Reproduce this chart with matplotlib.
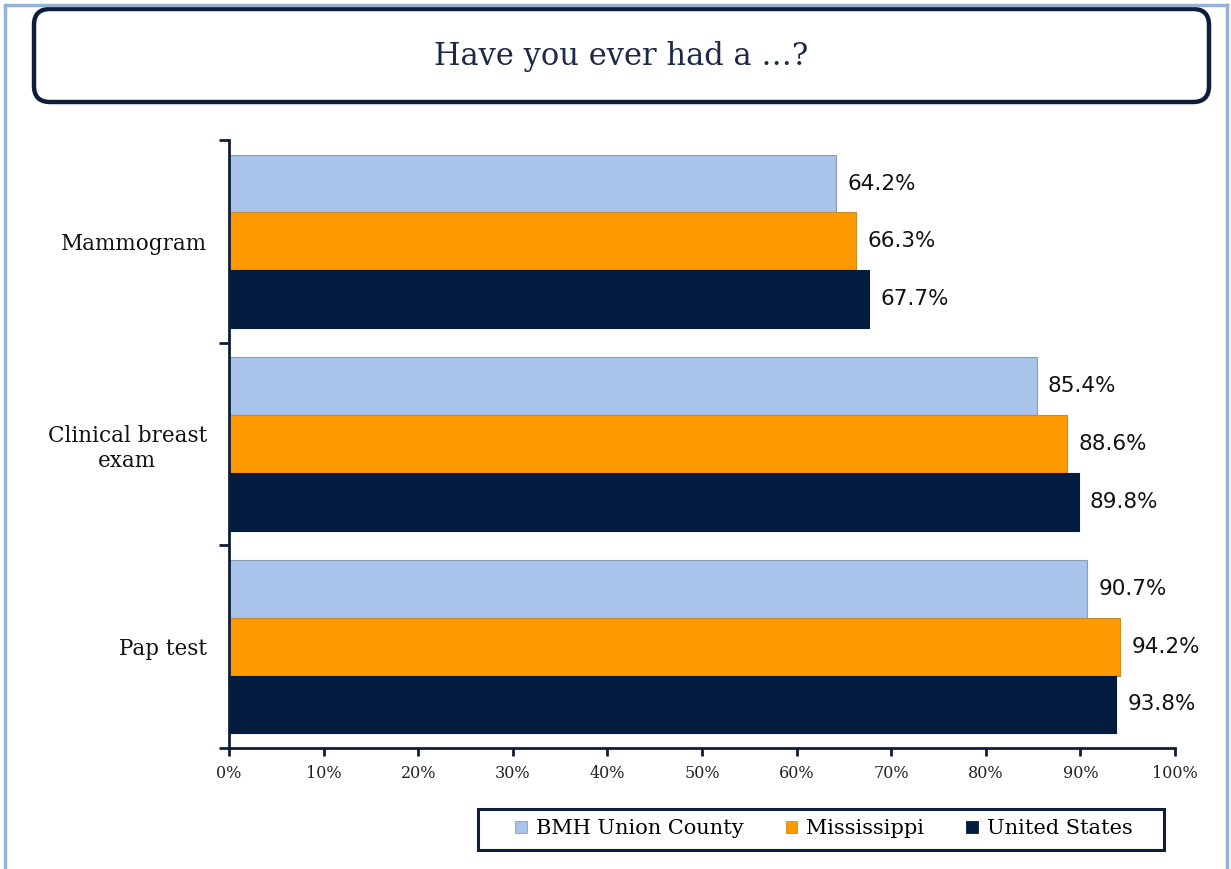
import matplotlib
matplotlib.use("Agg")
import matplotlib.pyplot as plt
import numpy as np
from matplotlib.patches import FancyBboxPatch, Patch, Rectangle

categories = ["Mammogram", "Clinical breast\nexam", "Pap test"]
series_names = ["BMH Union County", "Mississippi", "United States"]
bmh = [64.2, 85.4, 90.7]
mississippi = [66.3, 88.6, 94.2]
united_states = [67.7, 89.8, 93.8]
x_ticks = [0, 10, 20, 30, 40, 50, 60, 70, 80, 90, 100]
title = "Have you ever had a …?"

colors = ["#A8C4EA", "#FF9900", "#021C40"]
edges = ["#8A9BB5", "#C98A2A", "#021C40"]
navy = "#0E1E3A"
serif = "DejaVu Serif"

W, H = 1231, 869
fig = plt.figure(figsize=(W / 100, H / 100), dpi=100)
fig.patch.set_facecolor("white")

# background overlay in pixel units
bg = fig.add_axes([0, 0, 1, 1], zorder=-1)
bg.set_xlim(0, W)
bg.set_ylim(H, 0)
bg.axis("off")
bg.plot([5, 5], [5, H], color="#95B3D7", lw=2.5, solid_capstyle="butt")
bg.plot([5, 1227], [5, 5], color="#95B3D7", lw=2.5)
bg.plot([1227, 1227], [5, H], color="#95B3D7", lw=2.5)
box = FancyBboxPatch((34, 9), 1175, 93, boxstyle="round,pad=0,rounding_size=16",
                     fc="white", ec=navy, lw=3.2)
bg.add_patch(box)
bg.text(621, 57, title, ha="center", va="center", fontsize=22,
        family=serif, color="#1B2A48")
bg.add_patch(Rectangle((478, 809), 686, 41, fc="white", ec=navy, lw=2.2))

ax = fig.add_axes([229 / W, 1 - 748 / H, (1175 - 229) / W, (748 - 140) / H])
ax.set_facecolor("none")

h = 0.285
y = np.arange(len(categories))
all_series = [bmh, mississippi, united_states]
for i, vals in enumerate(all_series):
    pos = y + (i - 1) * h
    ax.barh(pos, vals, height=h, color=colors[i], edgecolor=edges[i], lw=0.8, zorder=2)
    for p, v in zip(pos, vals):
        ax.annotate(f"{v:.1f}%", (v, p), xytext=(8, 0), textcoords="offset points",
                    ha="left", va="center", fontsize=15.5, family="DejaVu Sans",
                    color="#111111")

ax.set_xlim(0, 100)
ax.set_ylim(2.5, -0.5)
ax.set_xticks(x_ticks)
ax.set_xticklabels([f"{t}%" for t in x_ticks], family=serif, fontsize=11.5, color="#222222")
ax.set_yticks([-0.5, 0.5, 1.5, 2.5])
ax.set_yticklabels([])
ax.set_yticks(y, minor=True)
ax.set_yticklabels(categories, minor=True, family=serif, fontsize=15.5, color="#111111")
for lab in ax.get_yticklabels(minor=True):
    lab.set_multialignment("center")
ax.tick_params(axis="y", which="major", direction="out", length=7, width=2, color=navy)
ax.tick_params(axis="y", which="minor", length=0, pad=16)
ax.tick_params(axis="x", direction="out", length=6, width=2, color=navy, pad=6)
for s in ["top", "right"]:
    ax.spines[s].set_visible(False)
for s in ["left", "bottom"]:
    ax.spines[s].set_color(navy)
    ax.spines[s].set_linewidth(2)

handles = [Patch(facecolor=colors[i], edgecolor=edges[i], lw=0.6) for i in range(3)]
leg = fig.legend(handles, series_names, loc="center", ncol=3,
                 bbox_to_anchor=(824 / W, 1 - 829 / H),
                 prop={"family": serif, "size": 15}, frameon=False,
                 handlelength=0.55, handleheight=0.55, handletextpad=0.45,
                 columnspacing=2.0, borderpad=0.3, borderaxespad=0)

fig.savefig("out.png", dpi=100)
